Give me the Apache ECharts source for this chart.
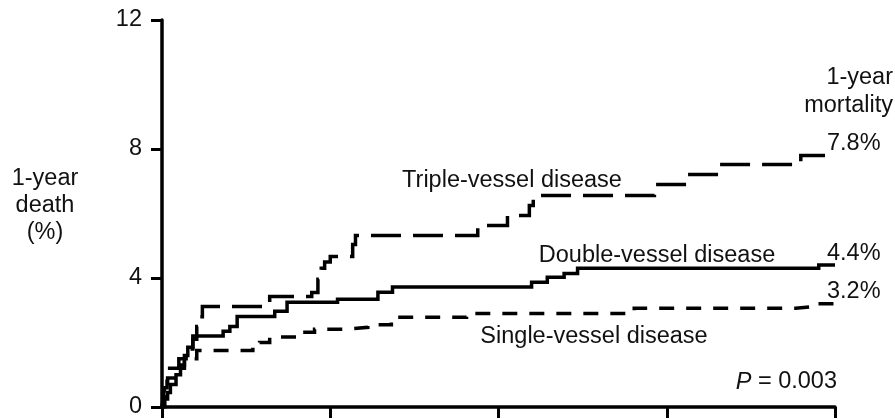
<!DOCTYPE html>
<html>
<head>
<meta charset="utf-8">
<script src="https://cdn.jsdelivr.net/npm/echarts@6/dist/echarts.min.js"></script>
<style>
  html, body { margin: 0; padding: 0; background: #fff; }
  #chart { width: 895px; height: 419px; }
</style>
</head>
<body>
<div id="chart"></div>
<script>
// Kaplan-Meier style cumulative 1-year death (%) by number of diseased vessels.
// Time axis in months (0-12); each value holds from its time onward.
const xTicks = [0, 3, 6, 9, 12];
const yTicks = [0, 4, 8, 12];

const tripleTime = [0, 0.02, 0.05, 0.09, 0.30, 0.43, 0.55, 0.62, 0.66, 0.72, 1.92, 2.67, 2.78, 2.84, 2.90, 3.00, 3.40, 3.45, 5.63, 6.16, 6.55, 6.62, 8.78, 9.36, 9.93, 11.39, 12];
const tripleRisk = [0, 0.3, 0.6, 1.2, 1.5, 1.8, 2.1, 2.5, 2.8, 3.12, 3.43, 3.55, 3.96, 4.3, 4.5, 4.67, 5.04, 5.32, 5.63, 5.94, 6.25, 6.56, 6.90, 7.21, 7.52, 7.8, 7.8];

const doubleTime = [0, 0.03, 0.10, 0.15, 0.25, 0.33, 0.40, 0.46, 0.55, 1.09, 1.21, 1.34, 2.01, 2.23, 3.13, 3.85, 4.11, 6.59, 6.87, 7.17, 7.41, 11.71, 12];
const doubleRisk = [0, 0.25, 0.45, 0.7, 1.0, 1.3, 1.6, 1.85, 2.2, 2.35, 2.5, 2.81, 2.97, 3.25, 3.34, 3.56, 3.72, 3.87, 4.02, 4.14, 4.3, 4.4, 4.4];

const singleTime = [0, 0.05, 0.10, 0.20, 0.40, 0.62, 1.62, 1.74, 1.92, 2.46, 2.72, 3.26, 3.67, 4.09, 5.43, 8.42, 11.30, 11.63, 12];
const singleRisk = [0, 0.5, 0.9, 1.2, 1.5, 1.75, 1.9, 2.0, 2.17, 2.32, 2.41, 2.47, 2.55, 2.78, 2.9, 3.06, 3.12, 3.2, 3.2];

const seriesNames = ['Triple-vessel disease', 'Double-vessel disease', 'Single-vessel disease'];

const FONT = '"Liberation Sans", Arial, sans-serif';
const FS = 23.5;
const INK = '#111';
const zip = (t, v) => t.map((x, i) => [x, v[i]]);

const chart = echarts.init(document.getElementById('chart'), null, { renderer: 'canvas' });

function kmSeries(name, time, risk, dash) {
  return {
    name: name,
    type: 'line',
    step: 'end',
    showSymbol: false,
    symbol: 'none',
    data: zip(time, risk),
    lineStyle: { color: '#000', width: 3.5, type: dash, cap: 'butt', join: 'miter' },
    endLabel: {
      show: true,
      formatter: p => p.value[1].toFixed(1) + '%',
      color: INK,
      fontSize: FS,
      fontFamily: FONT,
      distance: 0,
      offset: [-8, -12]
    },
    z: 3
  };
}

function note(text, x, y, align, extra) {
  return {
    type: 'text', x: x, y: y,
    style: Object.assign({
      text: text, fill: INK, fontSize: FS, fontFamily: FONT,
      textAlign: align, textVerticalAlign: 'middle'
    }, extra || {})
  };
}

chart.setOption({
  animation: false,
  backgroundColor: '#fff',
  grid: { left: 162, right: 60, top: 20, bottom: 11, containLabel: false },
  xAxis: {
    type: 'value',
    min: xTicks[0],
    max: xTicks[xTicks.length - 1],
    interval: xTicks[1] - xTicks[0],
    axisLine: { lineStyle: { color: '#000', width: 3.5 } },
    axisTick: { show: true, inside: false, length: 11, lineStyle: { color: '#000', width: 3 } },
    axisLabel: { show: false },
    splitLine: { show: false }
  },
  yAxis: {
    type: 'value',
    min: yTicks[0],
    max: yTicks[yTicks.length - 1],
    interval: yTicks[1] - yTicks[0],
    axisLine: { show: true, lineStyle: { color: '#000', width: 3.5 } },
    axisTick: { show: true, inside: false, length: 11, lineStyle: { color: '#000', width: 3 } },
    axisLabel: { color: INK, fontSize: FS, fontFamily: FONT, margin: 20 },
    splitLine: { show: false }
  },
  series: [
    kmSeries(seriesNames[0], tripleTime, tripleRisk, [30, 12]),
    kmSeries(seriesNames[1], doubleTime, doubleRisk, 'solid'),
    kmSeries(seriesNames[2], singleTime, singleRisk, [15, 12])
  ],
  graphic: [
    note('1-year\ndeath\n(%)', 45, 206, 'center', { lineHeight: 27 }),
    note('1-year\nmortality', 893, 92, 'right', { lineHeight: 28 }),
    note(seriesNames[0], 512, 181, 'center'),
    note(seriesNames[1], 657, 256, 'center'),
    note(seriesNames[2], 594, 337, 'center'),
    note('{i|P} = 0.003', 837, 382, 'right', {
      rich: { i: { fontStyle: 'italic', fontSize: FS, fontFamily: FONT, fill: INK } }
    })
  ]
});
</script>
</body>
</html>
